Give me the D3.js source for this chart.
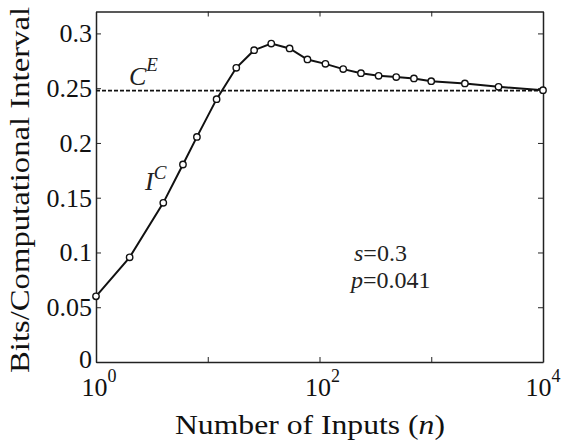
<!DOCTYPE html>
<html>
<head>
<meta charset="utf-8">
<script src="https://cdn.jsdelivr.net/npm/d3@7/dist/d3.min.js"></script>
<style>
  body { margin: 0; background: #fff; }
  svg { display: block; }
  .axis path, .axis line { stroke: #222; }
</style>
</head>
<body>
<div id="chart"></div>
<script>
// values
var nInputs = [1, 2, 4, 6, 8, 12, 18, 26, 37, 54, 78, 113, 163, 235, 338, 486, 700, 1000, 2000, 4000, 10000];
var bitsPerInterval = [0.060, 0.0956, 0.1453, 0.1803, 0.2055, 0.240, 0.2686, 0.2847, 0.2907, 0.2863, 0.2762,
    0.2722, 0.2674, 0.2637, 0.2613, 0.2601, 0.2589, 0.2564, 0.2543, 0.2512, 0.2482];
var capacityE = 0.2478;
var yTicks = [0, 0.05, 0.1, 0.15, 0.2, 0.25, 0.3];
var xTicks = [1, 10, 100, 1000, 10000];
var xLabelled = [1, 100, 10000];
var xLabelExp = ["0", "2", "4"];

var serif = "'Liberation Serif', 'Times New Roman', serif";
var width = 561, height = 444;
var margin = { left: 96, right: 18, top: 11.5, bottom: 82 };

var svg = d3.select("#chart").append("svg")
    .attr("width", width).attr("height", height)
    .style("font-family", serif);

var x = d3.scaleLog().domain([1, 10000]).range([margin.left, width - margin.right]);
var y = d3.scaleLinear().domain([0, 0.32]).range([height - margin.bottom, margin.top]);

function frame(g) {
    g.attr("font-family", serif).attr("font-size", 26);
    g.select(".domain").attr("stroke-width", 1.5);
    g.selectAll("text").attr("fill", "#111");
}

// left axis with labels, inward ticks
svg.append("g").attr("class", "axis")
    .attr("transform", "translate(" + margin.left + ",0)")
    .call(d3.axisLeft(y).tickValues(yTicks).tickSize(-5).tickSizeOuter(0).tickPadding(4)
        .tickFormat(function(d) { return String(d); }))
    .call(frame)
    .call(function(g) {
        g.selectAll(".tick text").filter(function(d) { return d === 0; }).attr("dy", "0.2em");
    });

// right axis, ticks only
svg.append("g").attr("class", "axis")
    .attr("transform", "translate(" + (width - margin.right) + ",0)")
    .call(d3.axisRight(y).tickValues(yTicks).tickSize(-5).tickSizeOuter(0).tickFormat(""))
    .call(frame);

// bottom axis, labels drawn separately
svg.append("g").attr("class", "axis")
    .attr("transform", "translate(0," + (height - margin.bottom) + ")")
    .call(d3.axisBottom(x).tickValues(xTicks).tickSize(-5).tickSizeOuter(0).tickFormat(""))
    .call(frame);

// top axis
svg.append("g").attr("class", "axis")
    .attr("transform", "translate(0," + margin.top + ")")
    .call(d3.axisTop(x).tickValues(xTicks).tickSize(-5).tickSizeOuter(0).tickFormat(""))
    .call(frame);

// 10^k labels
var xl = svg.append("g").selectAll("text").data(xLabelled).enter().append("text")
    .attr("x", function(d, i) { return x(d) + (i === 2 ? 0 : 3); })
    .attr("y", 396)
    .attr("text-anchor", "middle")
    .attr("font-size", 26)
    .attr("fill", "#111");
xl.append("tspan").text("10");
xl.append("tspan").attr("dy", -14).attr("font-size", 18)
    .text(function(d, i) { return xLabelExp[i]; });

// dashed C^E line
svg.append("line")
    .attr("x1", x(1)).attr("x2", x(10000))
    .attr("y1", y(capacityE)).attr("y2", y(capacityE))
    .attr("stroke", "#111").attr("stroke-width", 1.7)
    .attr("stroke-dasharray", "4,2");

var pts = nInputs.map(function(n, i) { return [n, bitsPerInterval[i]]; });

svg.append("path")
    .datum(pts)
    .attr("fill", "none")
    .attr("stroke", "#111")
    .attr("stroke-width", 2)
    .attr("d", d3.line().x(function(d) { return x(d[0]); }).y(function(d) { return y(d[1]); }));

svg.append("g").selectAll("circle").data(pts).enter().append("circle")
    .attr("cx", function(d) { return x(d[0]); })
    .attr("cy", function(d) { return y(d[1]); })
    .attr("r", 3.2)
    .attr("fill", "#fff")
    .attr("stroke", "#111")
    .attr("stroke-width", 1.4);

// curve labels
var ce = svg.append("text").attr("x", 129).attr("y", 85).attr("font-size", 26).attr("fill", "#222");
ce.append("tspan").attr("font-style", "italic").text("C");
ce.append("tspan").attr("font-style", "italic").attr("dy", -14).attr("font-size", 19).text("E");

var ic = svg.append("text").attr("x", 145).attr("y", 190).attr("font-size", 26).attr("fill", "#222");
ic.append("tspan").attr("font-style", "italic").text("I");
ic.append("tspan").attr("font-style", "italic").attr("dy", -11).attr("font-size", 19).text("C");

// parameters
var s1 = svg.append("text").attr("x", 354).attr("y", 261).attr("font-size", 24).attr("fill", "#222");
s1.append("tspan").attr("font-style", "italic").text("s");
s1.append("tspan").text("=0.3");
var s2 = svg.append("text").attr("x", 351).attr("y", 288).attr("font-size", 24).attr("fill", "#222");
s2.append("tspan").attr("font-style", "italic").text("p");
s2.append("tspan").text("=0.041");

// axis titles
var xt = svg.append("text")
    .attr("x", 310).attr("y", 434)
    .attr("text-anchor", "middle").attr("font-size", 28).attr("fill", "#111")
    .attr("textLength", 270).attr("lengthAdjust", "spacingAndGlyphs");
xt.append("tspan").text("Number of Inputs (");
xt.append("tspan").attr("font-style", "italic").text("n");
xt.append("tspan").text(")");

svg.append("text")
    .attr("transform", "translate(29,190) rotate(-90)")
    .attr("text-anchor", "middle").attr("font-size", 28).attr("fill", "#111")
    .attr("textLength", 366).attr("lengthAdjust", "spacingAndGlyphs")
    .text("Bits/Computational Interval");
</script>
</body>
</html>
